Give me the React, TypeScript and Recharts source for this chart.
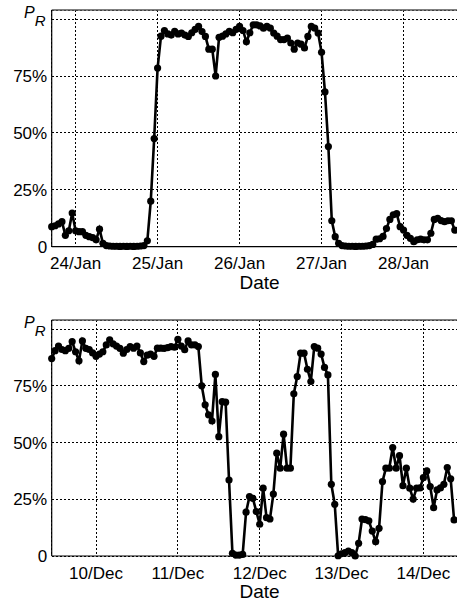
import React from 'react';
import {
  LineChart,
  Line,
  XAxis,
  YAxis,
  CartesianGrid,
  ReferenceLine,
} from 'recharts';

// hourly P_R samples (%), first sample at topStart hours after 24/Jan 00:00
const topStart = -7;
const topValues = [
  8.8, 9.2, 10, 11, 5, 7, 14.8, 7, 6.6, 6.6,
  5, 4.4, 4, 3, 7.7, 1.5, 0.5, 0.3, 0.2, 0.2,
  0.1, 0.2, 0.1, 0.2, 0.1, 0.2, 0.3, 0.5, 2.6, 20,
  47.5, 78.5, 92.5, 95, 93.5, 93, 94.6, 93.5, 93.9, 93,
  92.4, 94, 95.5, 96.8, 94.5, 92.4, 86.8, 86.8, 75, 92,
  92.5, 93.5, 94.6, 94, 95.5, 96.8, 95, 90, 94, 97.5,
  97.5, 97, 96, 96.8, 96, 93.9, 92.5, 91, 91, 91.6,
  89.5, 86.8, 89.5, 89, 87.3, 92.4, 96.8, 96, 93.9, 85.4,
  68, 44, 11.4, 4.4, 1.5, 0.5, 0.3, 0.2, 0.2, 0.1,
  0.2, 0.2, 0.3, 0.5, 1, 3.3, 3.5, 4.5, 8, 12,
  14, 14.5, 8.8, 7.3, 5, 3.7, 2.2, 3, 3.3, 3,
  3, 5.9, 12, 12.5, 11.5, 11, 11.4, 11.4, 7.3,
];
const topTicks = [0, 24, 48, 72, 96];
const topTickLabels = ['24/Jan', '25/Jan', '26/Jan', '27/Jan', '28/Jan'];

// hourly P_R samples (%), first sample at bottomStart hours after 10/Dec 00:00
const bottomStart = -13;
const bottomValues = [
  87, 90.5, 92.5, 91, 90.5, 91.5, 94.5, 90, 86, 94.8,
  91.5, 91, 89.5, 88, 89, 90, 93, 95.3, 93.5, 92.5,
  91.5, 89.4, 91, 92.3, 91.6, 92.5, 89.5, 85.7, 88.5, 89,
  88, 91.6, 91.6, 91.5, 91.8, 92.3, 92, 95.5, 92.5, 90.9,
  94.8, 93, 93, 92.3, 75, 66.6, 62.2, 59.5, 80, 52.6,
  68, 67.8, 33.5, 1.2, 0.4, 0.4, 0.7, 19.3, 26.2, 25.4,
  19.6, 14, 29.9, 16.9, 16.3, 27.3, 45.3, 38.7, 53.7, 38.7,
  38.7, 71.5, 79.1, 89.4, 89.4, 82.3, 76.9, 92.3, 91.6, 89,
  83.1, 79.8, 31.6, 22.8, 0.1, 1, 1.5, 2.2, 1.5, 0,
  5.6, 16.3, 16, 15.5, 11, 6.3, 12.2, 32.8, 38.7, 38.7,
  47.8, 38.7, 44.2, 31, 38.7, 29.9, 25.1, 29.9, 30, 34.5,
  37.5, 30.6, 21.3, 29.1, 30, 31.6, 39, 34, 15.9,
];
const bottomTicks = [0, 24, 48, 72, 96];
const bottomTickLabels = ['10/Dec', '11/Dec', '12/Dec', '13/Dec', '14/Dec'];

const yTicks = [0, 25, 50, 75, 100];

const FONT = '"Liberation Sans", Arial, Helvetica, sans-serif';

const PRLabel = (props: any) => {
  const vb = props.viewBox || { y: 10 };
  return (
    <text x={24} y={vb.y + 8} fontFamily={FONT} fontStyle="italic" fontSize={16} fill="#000">
      P
      <tspan fontSize={15} dx={0} dy={8}>
        R
      </tspan>
    </text>
  );
};

const DateLabel = (props: any) => {
  const vb = props.viewBox || { x: 52, y: 246, width: 405 };
  return (
    <text
      x={vb.x + vb.width / 2 + 5}
      y={vb.y + 42}
      textAnchor="middle"
      fontFamily={FONT}
      fontSize={19}
      fill="#000"
    >
      Date
    </text>
  );
};

interface PanelProps {
  start: number;
  values: number[];
  ticks: number[];
  tickLabels: string[];
  xDomain: [number, number];
  top: number;
  height: number;
  axisHeight: number;
}

function Panel({ start, values, ticks, tickLabels, xDomain, top, height, axisHeight }: PanelProps) {
  const data = values.map((p, i) => ({ h: start + i, p }));
  const tickStyle = { fontFamily: FONT, fontSize: 17, fill: '#000' };

  return (
    <div style={{ position: 'absolute', left: 0, top }}>
      <LineChart
        width={460}
        height={height}
        data={data}
        margin={{ top: 10, right: 2.5, bottom: 0, left: 7.7 }}
      >
        <CartesianGrid
          stroke="#000"
          strokeDasharray="2 2"
          strokeWidth={1}
          shapeRendering="crispEdges"
        />
        <XAxis
          dataKey="h"
          type="number"
          domain={xDomain}
          ticks={ticks}
          interval={0}
          tickFormatter={(v: number) => tickLabels[ticks.indexOf(v)] ?? ''}
          tick={tickStyle}
          tickLine={false}
          tickSize={0}
          tickMargin={10.5}
          height={axisHeight}
          axisLine={{ stroke: '#000', strokeWidth: 1.2 }}
          label={DateLabel}
        />
        <YAxis
          type="number"
          domain={[0, 104]}
          ticks={yTicks}
          interval={0}
          tickFormatter={(v: number) => (v === 0 ? '0' : v === 100 ? '' : `${v}%`)}
          tick={tickStyle}
          tickLine={false}
          tickSize={0}
          tickMargin={4.5}
          width={44}
          axisLine={{ stroke: '#000', strokeWidth: 1.2 }}
          label={PRLabel}
        />
        <ReferenceLine y={104} stroke="#555" strokeWidth={1.6} />
        <Line
          type="linear"
          dataKey="p"
          stroke="#000"
          strokeWidth={2.6}
          dot={{ r: 3.6, fill: '#000', stroke: '#000', strokeWidth: 0 }}
          activeDot={false}
          isAnimationActive={false}
        />
      </LineChart>
    </div>
  );
}

export default function App() {
  return (
    <div
      style={{
        position: 'fixed',
        left: 0,
        top: 0,
        width: 457,
        height: 607,
        overflow: 'hidden',
        background: '#fff',
      }}
    >
      <Panel
        start={topStart}
        values={topValues}
        ticks={topTicks}
        tickLabels={topTickLabels}
        xDomain={[-6.8, 111.8]}
        top={0}
        height={300}
        axisHeight={53.3}
      />
      <Panel
        start={bottomStart}
        values={bottomValues}
        ticks={bottomTicks}
        tickLabels={bottomTickLabels}
        xDomain={[-13, 106]}
        top={310}
        height={297}
        axisHeight={51}
      />
    </div>
  );
}
